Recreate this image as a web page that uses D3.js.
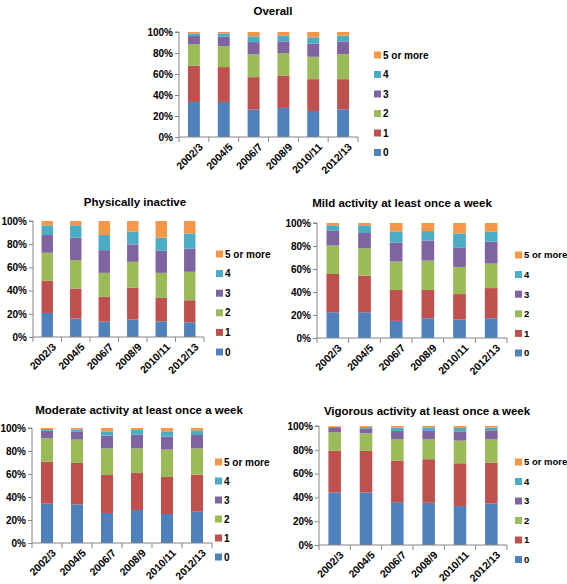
<!DOCTYPE html>
<html><head><meta charset="utf-8">
<script src="https://cdn.jsdelivr.net/npm/d3@7"></script>
<style>body{margin:0;background:#fff}svg{display:block}</style>
</head><body>
<script>
const years = ["2002/3","2004/5","2006/7","2008/9","2010/11","2012/13"];
const groups = ["0","1","2","3","4","5 or more"];
const yTicks = [0,0.2,0.4,0.6,0.8,1];

// rows = groups ("0" .. "5 or more"), columns = years; percent
const overall = [
  [33.4,33.4,26.1,27.7,24.8,26.4],
  [34.4,33.2,30.9,30.9,30.3,28.7],
  [20.4,20.0,21.7,21.3,21.3,23.9],
  [8.0,8.9,11.7,11.2,12.5,12.0],
  [2.5,3.2,5.5,5.4,6.0,5.5],
  [1.3,1.3,4.1,3.5,5.1,3.5]
];
const physicallyInactive = [
  [20.7,15.9,13.3,15.0,13.5,12.7],
  [27.7,25.9,21.3,27.4,20.2,19.0],
  [24.2,24.5,20.7,22.4,21.6,24.5],
  [15.3,19.3,19.6,15.0,19.1,19.9],
  [8.4,10.7,13.0,11.0,11.2,13.2],
  [3.7,3.7,12.1,9.2,14.4,10.7]
];
const mildActivity = [
  [22.4,22.4,14.9,17.2,16.0,17.2],
  [33.3,31.8,26.8,24.5,22.2,26.2],
  [24.8,23.9,24.8,25.6,23.6,21.3],
  [13.1,13.2,16.6,17.5,16.6,19.0],
  [4.4,6.7,9.6,8.2,12.6,8.7],
  [2.0,2.0,7.3,7.0,9.0,7.6]
];
const moderateActivity = [
  [34.2,33.6,26.1,28.7,25.2,27.2],
  [36.5,36.0,33.0,32.2,32.2,32.2],
  [20.6,20.3,23.2,21.4,23.8,22.9],
  [6.4,7.2,11.0,11.9,11.3,11.6],
  [1.4,1.7,3.8,4.1,4.6,4.1],
  [0.9,1.2,2.9,1.7,2.9,2.0]
];
const vigorousActivity = [
  [44.1,44.1,36.0,35.5,32.7,34.9],
  [35.0,35.0,34.9,36.6,36.0,34.4],
  [15.6,14.8,18.2,17.0,19.0,19.8],
  [3.6,4.1,6.7,7.3,7.8,7.3],
  [1.1,1.4,2.8,2.5,2.8,2.2],
  [0.6,0.6,1.4,1.1,1.7,1.4]
];

const colors = ["#4F81BD","#C0504D","#9BBB59","#8064A2","#4BACC6","#F79646"];

const panels = [
  {title:"Overall", data:overall, x0:179, x1:358, yTop:32, yBot:137, tx:273, ty:15, lx:374, ly:55, ls:19.5, lf:10},
  {title:"Physically inactive", data:physicallyInactive, x0:33, x1:204, yTop:221, yBot:337, tx:135, ty:206, lx:216, ly:254, ls:19.6, lf:10},
  {title:"Mild activity at least once a week", data:mildActivity, x0:317, x1:507, yTop:223, yBot:338, tx:402, ty:207, lx:515, ly:255, ls:19.6, lf:9.5},
  {title:"Moderate activity at least once a week", data:moderateActivity, x0:32, x1:212, yTop:428, yBot:543, tx:139, ty:414, lx:215, ly:462, ls:19, lf:10},
  {title:"Vigorous activity at least once a week", data:vigorousActivity, x0:319, x1:507, yTop:426, yBot:545, tx:427, ty:415, lx:515, ly:462, ls:19.5, lf:9.5}
];

const svg = d3.select("body").append("svg").attr("width",567).attr("height",584);
const font = "'Liberation Sans', Arial, sans-serif";
const axisColor = "#868686";

panels.forEach(p => {
  const g = svg.append("g");
  const rows = years.map((yr,i) => {
    const o = {year: yr};
    groups.forEach((gr,k) => o[gr] = p.data[k][i]);
    return o;
  });
  const series = d3.stack().keys(groups).offset(d3.stackOffsetExpand)(rows);
  const x = d3.scaleBand().domain(years).range([p.x0,p.x1]).paddingInner(0.6).paddingOuter(0.3);
  const xb = d3.scaleBand().domain(years).range([p.x0,p.x1]);
  const y = d3.scaleLinear().domain([0,1]).range([p.yBot,p.yTop]);

  series.forEach((s,k) => {
    g.append("g").attr("fill",colors[k]).selectAll("rect").data(s).join("rect")
      .attr("x", d => x(d.data.year))
      .attr("width", x.bandwidth())
      .attr("y", d => y(d[1]))
      .attr("height", d => y(d[0]) - y(d[1]));
  });

  // y axis
  const ya = g.append("g").attr("transform",`translate(${p.x0},0)`)
    .call(d3.axisLeft(y).tickValues(yTicks).tickFormat(d3.format(".0%")).tickSize(4).tickPadding(2));
  ya.select(".domain").attr("stroke",axisColor).attr("d",`M-4,${p.yTop}H0V${p.yBot}`);
  ya.selectAll(".tick line").attr("stroke",axisColor);
  ya.selectAll("text").attr("font-family",font).attr("font-weight","bold").attr("font-size",10).attr("fill","#000");

  // x axis
  const xa = g.append("g").attr("transform",`translate(0,${p.yBot})`);
  xa.append("line").attr("x1",p.x0).attr("x2",p.x1).attr("stroke",axisColor);
  xa.selectAll("line.t").data(years).join("line").attr("class","t")
    .attr("x1", d => xb(d)+xb.bandwidth()).attr("x2", d => xb(d)+xb.bandwidth())
    .attr("y1",0).attr("y2",5).attr("stroke",axisColor);
  xa.append("line").attr("x1",p.x0).attr("x2",p.x0).attr("y1",0).attr("y2",5).attr("stroke",axisColor);
  xa.selectAll("text").data(years).join("text")
    .attr("transform", d => `translate(${xb(d)+xb.bandwidth()/2+7},${8}) rotate(-45)`)
    .attr("text-anchor","end").attr("dy","0.35em")
    .attr("font-family",font).attr("font-weight","bold").attr("font-size",10.5)
    .text(d => d);

  // title
  g.append("text").attr("x",p.tx).attr("y",p.ty).attr("text-anchor","middle")
    .attr("font-family",font).attr("font-weight","bold").attr("font-size",11.5).text(p.title);

  // legend (reversed)
  const lg = g.append("g");
  groups.slice().reverse().forEach((gr,i) => {
    const k = groups.length-1-i;
    const yy = p.ly + i*p.ls;
    lg.append("rect").attr("x",p.lx).attr("y",yy-3.5).attr("width",7).attr("height",7).attr("fill",colors[k]);
    lg.append("text").attr("x",p.lx+9).attr("y",yy).attr("dy","0.35em")
      .attr("font-family",font).attr("font-weight","bold").attr("font-size",p.lf).text(gr);
  });
});
</script>
</body></html>
